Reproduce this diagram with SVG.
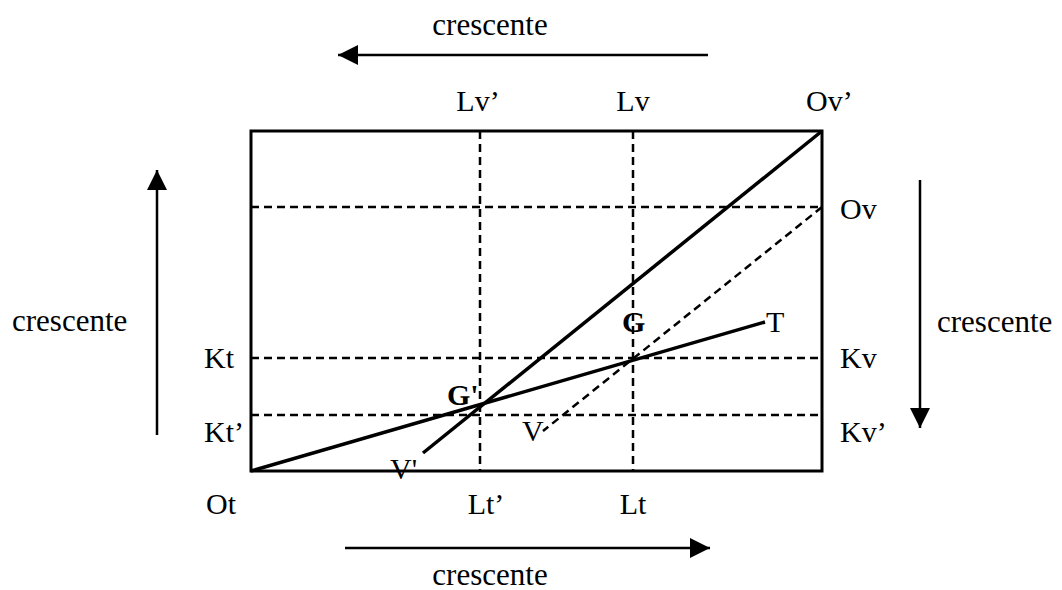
<svg xmlns="http://www.w3.org/2000/svg" width="1062" height="590" viewBox="0 0 1062 590">
<style>
text{font-family:"Liberation Serif","Times New Roman",serif;font-size:30px;fill:#000}
.big{font-size:31px}
.b{font-weight:bold}
.dash{stroke:#000;stroke-width:2.5;stroke-dasharray:8 5;fill:none}
.solid{stroke:#000;stroke-width:3.5;fill:none}
.arr{stroke:#000;stroke-width:2.5;fill:none}
</style>
<defs>
<marker id="ah" viewBox="0 0 20 20" refX="20" refY="10" markerWidth="20" markerHeight="20" markerUnits="userSpaceOnUse" orient="auto">
<path d="M0,0 L20,10 L0,20 Z" fill="#000"/>
</marker>
</defs>
<rect width="1062" height="590" fill="#fff"/>
<g id="frame">
<rect x="251" y="131" width="571" height="340" fill="none" stroke="#000" stroke-width="3"/>
</g>
<g id="connectors">
<line class="dash" x1="251" y1="207" x2="822" y2="207"/>
<line class="dash" x1="251" y1="358" x2="822" y2="358"/>
<line class="dash" x1="251" y1="415" x2="822" y2="415"/>
<line class="dash" x1="480" y1="131" x2="480" y2="471"/>
<line class="dash" x1="633" y1="131" x2="633" y2="471"/>
<line class="dash" x1="822" y1="207" x2="543" y2="431"/>
<line class="solid" x1="822" y1="131" x2="423" y2="453"/>
<line class="solid" x1="251" y1="471" x2="765" y2="322"/>
<line class="arr" x1="708" y1="55" x2="338" y2="55" marker-end="url(#ah)"/>
<line class="arr" x1="345" y1="548" x2="710" y2="548" marker-end="url(#ah)"/>
<line class="arr" x1="157" y1="435" x2="157" y2="170" marker-end="url(#ah)"/>
<line class="arr" x1="920" y1="180" x2="920" y2="428" marker-end="url(#ah)"/>
</g>
<g id="labels">
<text class="big" x="490" y="35" text-anchor="middle">crescente</text>
<text class="big" x="490" y="585" text-anchor="middle">crescente</text>
<text class="big" x="12" y="331">crescente</text>
<text class="big" x="937" y="332">crescente</text>
<text x="478" y="111" text-anchor="middle">Lv’</text>
<text x="633" y="111" text-anchor="middle">Lv</text>
<text x="806" y="111">Ov’</text>
<text x="840" y="219">Ov</text>
<text x="840" y="368">Kv</text>
<text x="840" y="442">Kv’</text>
<text x="204" y="368">Kt</text>
<text x="204" y="442">Kt’</text>
<text x="206" y="514">Ot</text>
<text x="486" y="514" text-anchor="middle">Lt’</text>
<text x="633" y="514" text-anchor="middle">Lt</text>
<text class="b" x="447" y="405">G'</text>
<text class="b" x="622" y="332">G</text>
<text x="766" y="332">T</text>
<text x="390" y="479">V'</text>
<text x="522" y="441">V</text>
</g>
</svg>
